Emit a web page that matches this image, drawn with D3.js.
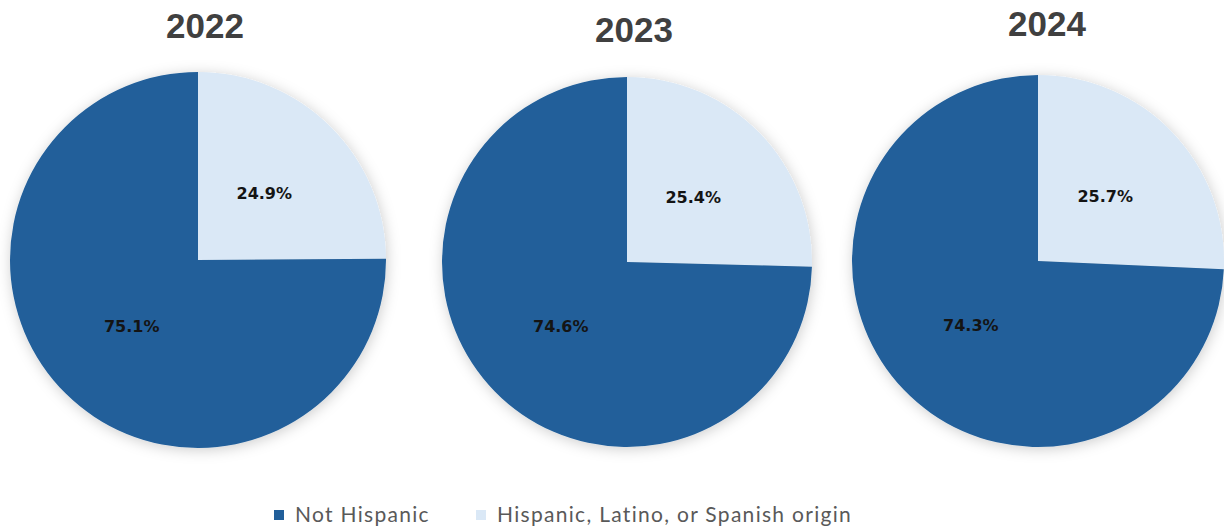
<!DOCTYPE html>
<html>
<head>
<meta charset="utf-8">
<script src="https://cdn.jsdelivr.net/npm/d3@7"></script>
<style>
  body { margin: 0; background: #fff; }
  svg { display: block; }
</style>
</head>
<body>
<div id="chart"></div>
<script>
// data
var years = ["2022", "2023", "2024"];
var categories = ["Hispanic, Latino, or Spanish origin", "Not Hispanic"];
var hispanic = [24.9, 25.4, 25.7];
var notHispanic = [75.1, 74.6, 74.3];
var legendOrder = ["Not Hispanic", "Hispanic, Latino, or Spanish origin"];

var width = 1224, height = 531;

var color = d3.scaleOrdinal()
  .domain(categories)
  .range(["#dae8f6", "#215f9a"]);

var svg = d3.select("#chart")
  .append("svg")
  .attr("width", width)
  .attr("height", height);

// soft glow around each pie
var filter = svg.append("defs").append("filter")
  .attr("id", "glow")
  .attr("x", "-20%").attr("y", "-20%")
  .attr("width", "140%").attr("height", "140%");
filter.append("feGaussianBlur").attr("in", "SourceAlpha").attr("stdDeviation", 7).attr("result", "blur");
filter.append("feOffset").attr("dx", 1).attr("dy", 2).attr("result", "off");
filter.append("feFlood").attr("flood-color", "#000").attr("flood-opacity", 0.2);
filter.append("feComposite").attr("in2", "off").attr("operator", "in").attr("result", "shadow");
var merge = filter.append("feMerge");
merge.append("feMergeNode").attr("in", "shadow");
merge.append("feMergeNode").attr("in", "SourceGraphic");

// pie placement
var cx = [198, 627, 1038];
var cy = [260, 262, 261];
var radius = [188, 185, 186];
var titleX = [205, 634, 1047];
var titleY = [38, 42, 36];

var pie = d3.pie().sort(null).value(function (d) { return d.value; });

years.forEach(function (yr, i) {
  var data = [
    { key: categories[0], value: hispanic[i] },
    { key: categories[1], value: notHispanic[i] }
  ];
  var arc = d3.arc().innerRadius(0).outerRadius(radius[i]);
  var labelArc = d3.arc().innerRadius(radius[i] / 2).outerRadius(radius[i] / 2);

  var g = svg.append("g")
    .attr("transform", "translate(" + cx[i] + "," + cy[i] + ")");

  g.append("g").attr("filter", "url(#glow)")
    .selectAll("path")
    .data(pie(data))
    .enter()
    .append("path")
    .attr("d", arc)
    .attr("fill", function (d) { return color(d.data.key); });

  g.selectAll("text.lbl")
    .data(pie(data))
    .enter()
    .append("text")
    .attr("class", "lbl")
    .attr("transform", function (d) { return "translate(" + labelArc.centroid(d) + ")"; })
    .attr("text-anchor", "middle")
    .attr("dy", "0.35em")
    .style("font-family", "DejaVu Sans, sans-serif")
    .style("font-size", "16px")
    .style("font-weight", "bold")
    .style("fill", "#141414")
    .text(function (d) { return d3.format(".1f")(d.data.value) + "%"; });

  svg.append("text")
    .attr("x", titleX[i])
    .attr("y", titleY[i])
    .attr("text-anchor", "middle")
    .style("font-family", "Liberation Sans, Arial, sans-serif")
    .style("font-size", "35px")
    .style("font-weight", "bold")
    .style("fill", "#404040")
    .text(yr);
});

// legend
var legendX = [274, 476];
var legend = svg.selectAll("g.legend")
  .data(legendOrder)
  .enter()
  .append("g")
  .attr("class", "legend")
  .attr("transform", function (d, i) { return "translate(" + legendX[i] + ",510)"; });

legend.append("rect")
  .attr("width", 10)
  .attr("height", 10)
  .attr("fill", function (d) { return color(d); });

legend.append("text")
  .attr("x", 21)
  .attr("y", 12)
  .style("font-family", "Lato, sans-serif")
  .style("font-size", "21px")
  .style("fill", "#595959")
  .style("letter-spacing", "1.3px")
  .text(function (d) { return d; });
</script>
</body>
</html>
